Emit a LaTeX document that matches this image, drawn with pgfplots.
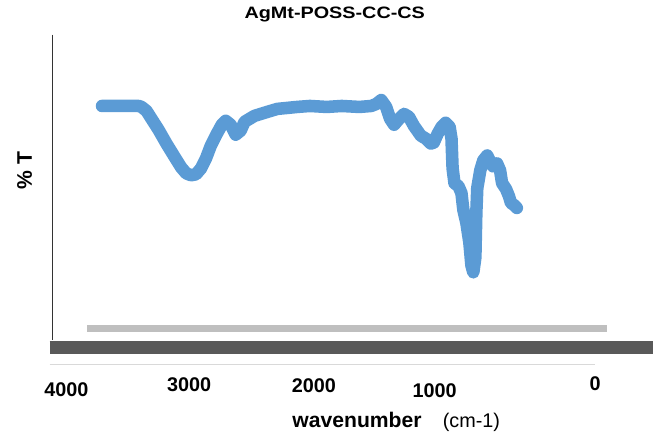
\documentclass[border=0pt]{standalone}
\usepackage{pgfplots}
\pgfplotsset{compat=1.18}
\usepackage{fontspec}
\setmainfont{Liberation Sans}
\definecolor{ftirblue}{RGB}{91,155,213}
\definecolor{bargrey}{RGB}{191,191,191}
\definecolor{bardark}{RGB}{89,89,89}
\definecolor{linelight}{RGB}{217,217,217}

% spectrum, wavenumber (cm-1) vs %T
\pgfplotstableread{
w T
3615 76.77
3347 76.77
3325 76.45
3289 75.16
3252 72.58
3201 69.03
3143 64.52
3085 60.32
3035 56.77
2998 54.84
2962 54.19
2926 54.52
2889 56.45
2853 59.68
2817 63.87
2773 67.74
2737 70.65
2708 71.94
2672 70.65
2635 67.42
2599 68.71
2570 71.61
2497 73.55
2403 74.84
2330 75.81
2185 76.45
2091 76.77
1967 76.45
1858 76.77
1728 76.45
1641 76.77
1604 77.42
1568 78.71
1532 76.45
1503 72.58
1474 70.65
1437 72.58
1401 74.19
1365 73.23
1329 70.32
1278 67.10
1241 66.13
1205 64.52
1183 64.84
1154 67.74
1125 70.00
1096 71.29
1067 70.00
1053 66.13
1045 56.45
1031 51.61
1002 50.65
980 48.39
966 42.90
944 38.71
922 32.26
907 24.84
893 22.58
878 27.42
871 41.94
864 50.00
842 55.81
820 59.03
791 60.65
770 58.71
748 57.10
719 58.06
697 55.81
682 51.61
653 49.68
632 47.42
617 45.16
595 44.52
574 43.55
}\spectrum

\begin{document}
\begin{tikzpicture}
\begin{axis}[
    scale only axis,
    width=494.25pt, height=337.5pt,
    x dir=reverse,
    xmin=-421, xmax=4363,
    ymin=-33.87, ymax=111.29,
    axis line style={draw=none},
    xtick=\empty, ytick=\empty,
    clip=false,
]
\path (rel axis cs:0,0) rectangle (rel axis cs:1,1);
% bars under the plot area
\addplot[bargrey, line width=5.25pt] coordinates {(3724,4.35) (-87,4.35)};
\addplot[bardark, line width=9.75pt] coordinates {(4000,-1.77) (-421,-1.77)};
\addplot[linelight, line width=1.2pt] coordinates {(4000,-7.42) (0,-7.42)};
% vertical axis
\addplot[black!80, line width=1pt] coordinates {(3978,100) (3978,0.5)};
% spectrum
\addplot[ftirblue, line width=9.5pt, line join=round, line cap=round] table[x=w, y=T] {\spectrum};

\node[font=\bfseries\fontsize{12.5}{13}\selectfont] at (axis cs:1909,106.45) {\scalebox{1.2}[1]{AgMt-POSS-CC-CS}};
\node[font=\bfseries\fontsize{16}{18}\selectfont, rotate=90] at (axis cs:4182,55.81) {\% T};
\node[font=\bfseries\fontsize{15}{16}\selectfont] at (axis cs:3877,-15.81) {4000};
\node[font=\bfseries\fontsize{15}{16}\selectfont] at (axis cs:2976,-14.19) {3000};
\node[font=\bfseries\fontsize{15}{16}\selectfont] at (axis cs:2062,-14.19) {2000};
\node[font=\bfseries\fontsize{15}{16}\selectfont] at (axis cs:1176,-16.13) {1000};
\node[font=\bfseries\fontsize{15}{16}\selectfont] at (axis cs:0,-13.55) {0};
\node[font=\bfseries\fontsize{16}{18}\selectfont, anchor=base west, inner sep=0pt] at (axis cs:2221,-28.06) {wavenumber};
\node[font=\fontsize{15}{18}\selectfont, anchor=base west, inner sep=0pt] at (axis cs:1118,-28.06) {(cm-1)};
\end{axis}
\end{tikzpicture}
\end{document}
